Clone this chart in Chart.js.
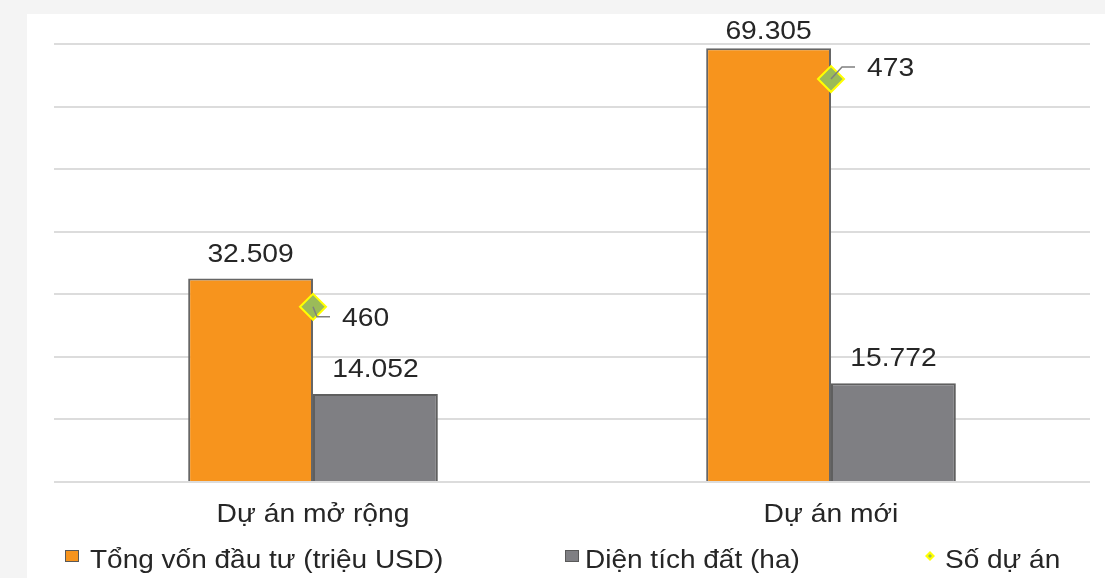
<!DOCTYPE html>
<html><head><meta charset="utf-8">
<script src="https://cdn.jsdelivr.net/npm/chart.js@4"></script>
<style>html,body{margin:0;padding:0;background:#fff;overflow:hidden}#wrap{width:1105px;height:578px;position:relative}</style>
</head><body><div id="wrap"><canvas id="c" width="1105" height="578"></canvas></div>
<script>
const categories = ['Dự án mở rộng', 'Dự án mới'];
const seriesNames = ['Tổng vốn đầu tư (triệu USD)', 'Diện tích đất (ha)', 'Số dự án'];
const totalCapital = [32509, 69305];
const landArea = [14052, 15772];
const projectCount = [460, 473];

const FONT = '"Liberation Sans", Arial, sans-serif';
const TEXT = '#262626';
const SX = 1.13;

function fmt(v) { return String(v).replace(/\B(?=(\d{3})+(?!\d))/g, '.'); }

function drawText(ctx, txt, x, y, size, align, sx) {
  ctx.save();
  ctx.font = size + 'px ' + FONT;
  ctx.fillStyle = TEXT;
  ctx.textBaseline = 'alphabetic';
  ctx.textAlign = 'left';
  const w = ctx.measureText(txt).width * sx;
  const left = align === 'center' ? x - w / 2 : (align === 'right' ? x - w : x);
  ctx.translate(left, y);
  ctx.scale(sx, 1);
  ctx.fillText(txt, 0, 0);
  ctx.restore();
}

const bgPlugin = {
  id: 'bg',
  beforeDraw(chart) {
    const c = chart.ctx;
    c.save();
    c.fillStyle = '#f4f4f4';
    c.fillRect(0, 0, chart.width, chart.height);
    c.fillStyle = '#ffffff';
    c.fillRect(27, 14, chart.width - 27, chart.height - 14);
    c.restore();
  }
};

// layout of the point labels (offset of label from its marker)
const pointLabelOffsets = [{dx: 29, dy: 10}, {dx: 36, dy: -12}];
// legend layout
const legendLayout = [
  {kind: 'box', bx: 65, text: 90},
  {kind: 'box', bx: 565, text: 585},
  {kind: 'diamond', bx: 930, text: 945}
];

const labelsPlugin = {
  id: 'labels',
  afterDatasetsDraw(chart) {
    const c = chart.ctx;
    // bar value labels
    [0, 1].forEach(di => {
      const meta = chart.getDatasetMeta(di);
      meta.data.forEach((el, i) => {
        const base = Math.max(el.y - 17, 39);
        drawText(c, fmt(chart.data.datasets[di].data[i]), el.x, base, 25, 'center', SX);
      });
    });
    // point labels with leader lines
    const pm = chart.getDatasetMeta(2);
    pm.data.forEach((el, i) => {
      const o = pointLabelOffsets[i];
      const lx = el.x + o.dx, ly = el.y + o.dy;
      c.save();
      c.strokeStyle = '#808080';
      c.lineWidth = 1.5;
      c.beginPath();
      c.moveTo(el.x, el.y);
      c.lineTo(lx - 25, ly);
      c.lineTo(lx - 12, ly);
      c.stroke();
      c.restore();
      drawText(c, fmt(chart.data.datasets[2].data[i]), lx, ly + 9, 25, 'left', SX);
    });
    // category labels
    const xs = chart.scales.x;
    categories.forEach((cat, i) => {
      drawText(c, cat, xs.getPixelForTick(i), 522, 25, 'center', SX);
    });
    // legend
    chart.data.datasets.forEach((ds, i) => {
      const L = legendLayout[i];
      c.save();
      if (L.kind === 'box') {
        c.fillStyle = ds.backgroundColor;
        c.strokeStyle = '#595959';
        c.lineWidth = 1;
        c.fillRect(L.bx, 550, 14, 12);
        c.strokeRect(L.bx + 0.5, 550.5, 13, 11);
      } else {
        c.fillStyle = '#ffff00';
        c.beginPath();
        c.moveTo(L.bx, 551); c.lineTo(L.bx + 5, 556); c.lineTo(L.bx, 561); c.lineTo(L.bx - 5, 556); c.closePath();
        c.fill();
        c.fillStyle = '#9bbb59';
        c.beginPath();
        c.moveTo(L.bx, 554); c.lineTo(L.bx + 2, 556); c.lineTo(L.bx, 558); c.lineTo(L.bx - 2, 556); c.closePath();
        c.fill();
      }
      c.restore();
      drawText(c, ds.label, L.text, 568, 25, 'left', 1.12);
    });
  }
};

new Chart(document.getElementById('c').getContext('2d'), {
  type: 'bar',
  data: {
    labels: categories,
    datasets: [
      {label: seriesNames[0], data: totalCapital, backgroundColor: '#f7941d', borderColor: '#666666', borderWidth: 2, yAxisID: 'y', order: 2},
      {label: seriesNames[1], data: landArea, backgroundColor: '#7f7f83', borderColor: '#5f5f5f', borderWidth: 2, yAxisID: 'y', order: 2},
      {type: 'line', label: seriesNames[2], data: projectCount, showLine: false, yAxisID: 'y1', order: 1,
       pointStyle: 'rectRot', pointRadius: 13, pointHoverRadius: 13,
       backgroundColor: '#9bbb59', borderColor: '#ffff00',
       pointBackgroundColor: '#9bbb59', pointBorderColor: '#ffff00', pointBorderWidth: 2}
    ]
  },
  options: {
    responsive: false,
    animation: false,
    events: [],
    layout: {padding: {left: 54, right: 7, top: 44, bottom: 0}},
    plugins: {legend: {display: false}, tooltip: {enabled: false}},
    datasets: {bar: {categoryPercentage: 0.482, barPercentage: 1}},
    scales: {
      x: {grid: {display: false}, border: {display: false}, ticks: {display: false},
          afterFit(s) { s.height = 96; }},
      y: {min: 0, max: 70000, ticks: {stepSize: 10000, display: false},
          grid: {color: '#dcdcdc', lineWidth: 2, drawTicks: false}, border: {display: false},
          afterFit(s) { s.width = 0; }},
      y1: {display: false, min: 450, max: 475, position: 'right', grid: {display: false}}
    }
  },
  plugins: [bgPlugin, labelsPlugin]
});
</script></body></html>
